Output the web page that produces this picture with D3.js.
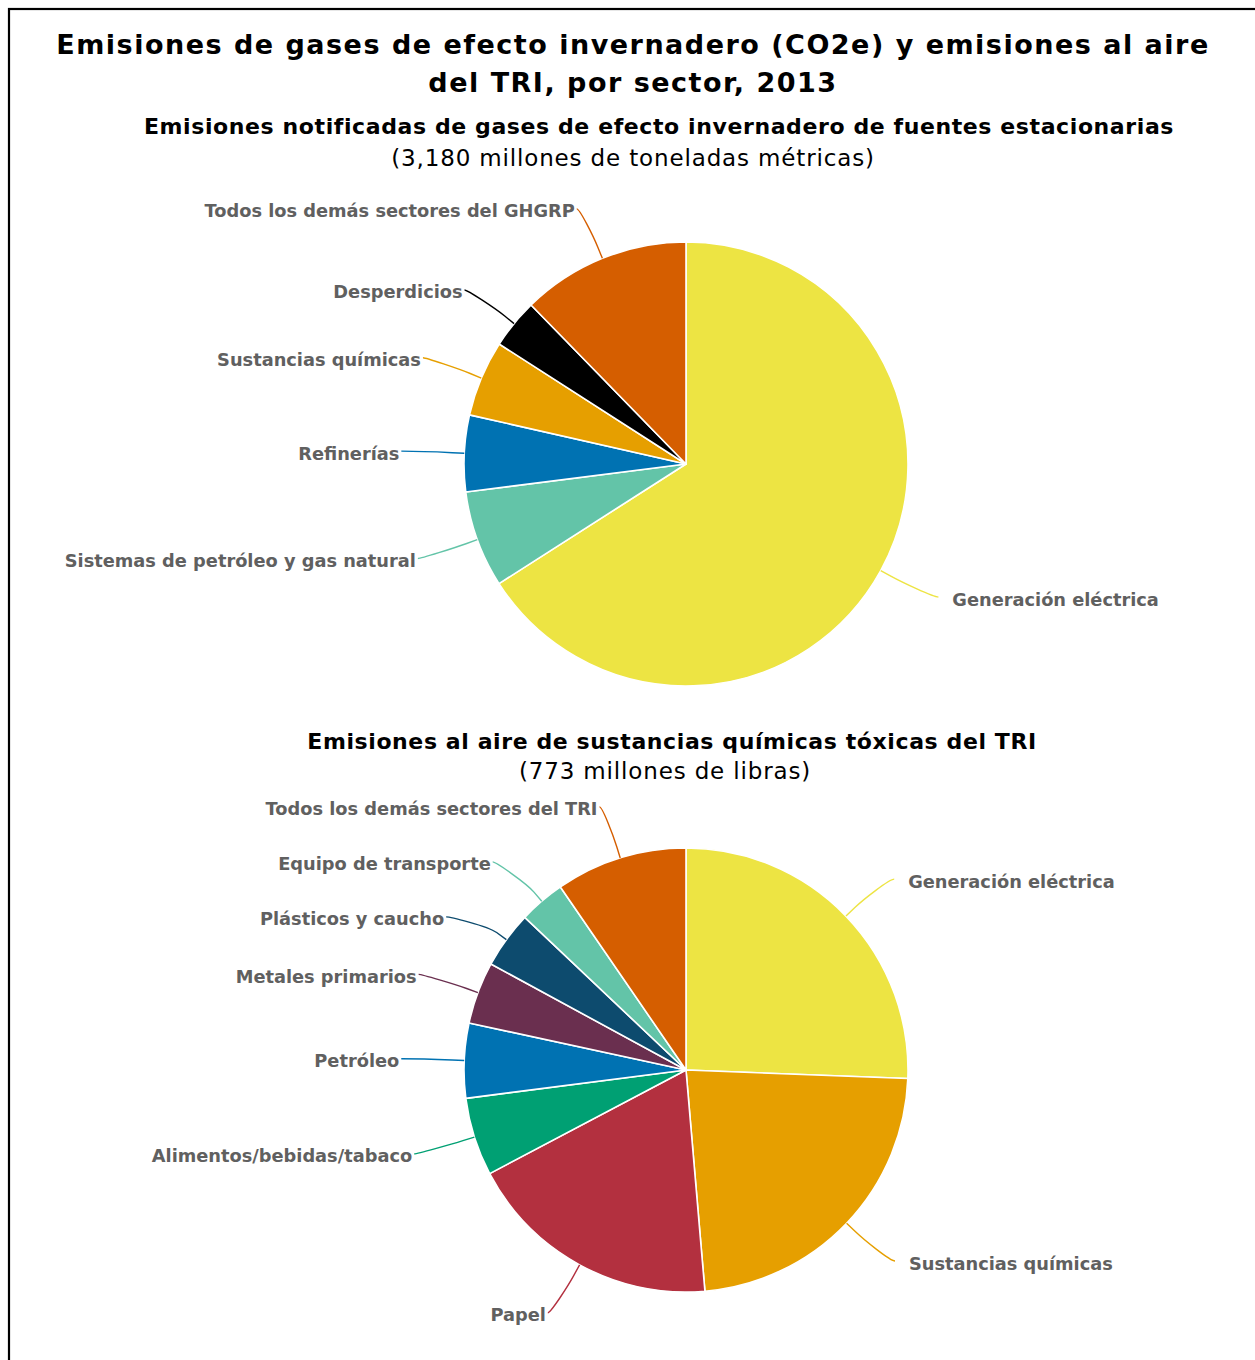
<!DOCTYPE html>
<html><head><meta charset="utf-8">
<script src="https://cdn.jsdelivr.net/npm/d3@7"></script>
<style>body{margin:0;background:#fff}</style>
</head><body><svg id="c" width="1255" height="1360"></svg>
<script>
const titleLines = ["Emisiones de gases de efecto invernadero (CO2e) y emisiones al aire", "del TRI, por sector, 2013"];

const topTitle = "Emisiones notificadas de gases de efecto invernadero de fuentes estacionarias";
const topSubtitle = "(3,180 millones de toneladas métricas)";
const topCategories = ["Generación eléctrica", "Sistemas de petróleo y gas natural", "Refinerías", "Sustancias químicas", "Desperdicios", "Todos los demás sectores del GHGRP"];
const topValues = [2097, 224, 177, 176, 115, 391];
const topColors = ["#EDE443", "#63C4A8", "#0072B2", "#E69F00", "#000000", "#D55E00"];

const bottomTitle = "Emisiones al aire de sustancias químicas tóxicas del TRI";
const bottomSubtitle = "(773 millones de libras)";
const bottomCategories = ["Generación eléctrica", "Sustancias químicas", "Papel", "Alimentos/bebidas/tabaco", "Petróleo", "Metales primarios", "Plásticos y caucho", "Equipo de transporte", "Todos los demás sectores del TRI"];
const bottomValues = [198, 178, 144, 44, 42, 35, 32, 26, 74];
const bottomColors = ["#EDE443", "#E69F00", "#B3303F", "#00A073", "#0072B2", "#6A2F4F", "#0D4B6E", "#63C4A8", "#D55E00"];

const FONT = "'DejaVu Sans', Verdana, sans-serif";
const svg = d3.select("#c");

// frame
svg.append("rect").attr("x", 9).attr("y", 9).attr("width", 1300).attr("height", 1400)
  .attr("fill", "none").attr("stroke", "#000").attr("stroke-width", 2.2);

// main title
svg.append("g").selectAll("text").data(titleLines).join("text")
  .attr("x", 633).attr("y", (d, i) => 44 + i * 38)
  .attr("text-anchor", "middle").attr("dominant-baseline", "central")
  .style("font-family", FONT).style("font-weight", "bold").style("font-size", "27px")
  .style("letter-spacing", "1.5px")
  .attr("fill", "#000").text(d => d);

function heading(line1, x1, y1, line2, x2, y2) {
  svg.append("text").attr("x", x1).attr("y", y1).attr("text-anchor", "middle")
    .attr("dominant-baseline", "central").style("font-family", FONT).style("font-weight", "bold")
    .style("font-size", "22px").style("letter-spacing", "0.6px").attr("fill", "#000").text(line1);
  svg.append("text").attr("x", x2).attr("y", y2).attr("text-anchor", "middle")
    .attr("dominant-baseline", "central").style("font-family", FONT)
    .style("font-size", "23px").style("letter-spacing", "0.85px").attr("fill", "#000").text(line2);
}
heading(topTitle, 659, 126, topSubtitle, 633, 158);
heading(bottomTitle, 672, 741, bottomSubtitle, 665, 771);

function drawPie(cx, cy, r, cats, vals, colors) {
  const data = cats.map((c, i) => ({ name: c, value: vals[i], color: colors[i] }));
  const pie = d3.pie().sort(null).value(d => d.value).startAngle(0).endAngle(2 * Math.PI);
  const arcs = pie(data);
  const arc = d3.arc().innerRadius(0).outerRadius(r);
  const g = svg.append("g").attr("transform", `translate(${cx},${cy})`);
  g.selectAll("path.slice").data(arcs).join("path").attr("class", "slice")
    .attr("d", arc).attr("fill", d => d.data.color)
    .attr("stroke", "#fff").attr("stroke-width", 1.6).attr("stroke-linejoin", "round");

  const dist = 60, R = r + dist, minGap = 55;
  const labels = arcs.map(a => {
    const m = (a.startAngle + a.endAngle) / 2;
    const s = Math.sin(m), c = Math.cos(m);
    return { a, m, s, c, left: s < 0, y: -(R - 6) * c + 0.5, x: R * s, shifted: false };
  });
  // overlap resolution per side
  [true, false].forEach(side => {
    const L = labels.filter(l => l.left === side).sort((p, q) => p.y - q.y);
    for (let i = 1; i < L.length; i++) {
      if (L[i].y - L[i - 1].y < minGap) { L[i].y = L[i - 1].y + minGap; L[i].shifted = true; }
    }
  });
  labels.forEach(l => {
    if (l.shifted) {
      const dx = Math.sqrt(Math.max(0, R * R - l.y * l.y));
      l.x = l.left ? -dx : dx;
    }
  });

  const lg = g.append("g");
  labels.forEach(l => {
    const E = [r * l.s, -r * l.c];
    const B = [(r + 12) * l.s, -(r + 12) * l.c];
    const sx = l.left ? l.x - 3 : l.x + 5;
    const p = d3.path();
    p.moveTo(sx, l.y);
    p.bezierCurveTo(l.x, l.y, 2 * B[0] - E[0], 2 * B[1] - E[1], B[0], B[1]);
    p.lineTo(E[0], E[1]);
    lg.append("path").attr("d", p.toString()).attr("fill", "none")
      .attr("stroke", l.a.data.color).attr("stroke-width", 1.4);
    lg.append("text")
      .attr("x", l.left ? l.x - 5 : l.x + 19).attr("y", l.y + 2)
      .attr("text-anchor", l.left ? "end" : "start").attr("dominant-baseline", "central")
      .style("font-family", FONT).style("font-weight", "bold").style("font-size", "17.8px")
      .attr("fill", "#606060").text(l.a.data.name);
  });
}

drawPie(686, 464, 222, topCategories, topValues, topColors);
drawPie(686, 1070, 222, bottomCategories, bottomValues, bottomColors);
</script></body></html>
